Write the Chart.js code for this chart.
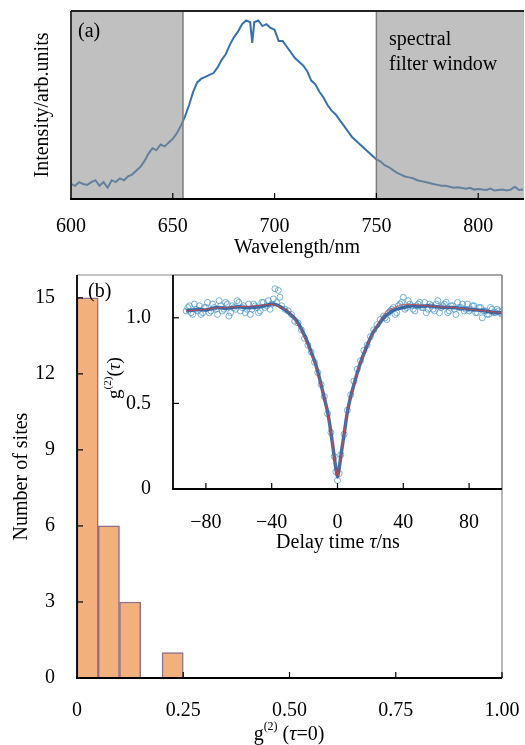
<!doctype html>
<html lang="en">
<head>
<meta charset="UTF-8">
<title>Spectrum and g2 histogram</title>
<script src="https://cdn.jsdelivr.net/npm/chart.js"></script>
<style>
  body { margin: 0; background: #fff; }
  #wrap { position: relative; width: 525px; height: 745px; }
  canvas { position: absolute; left: 0; }
</style>
</head>
<body>
<div id="wrap">
  <canvas id="spectrumChart" width="525" height="270" style="top:0"></canvas>
  <canvas id="histChart" width="525" height="475" style="top:270px"></canvas>
  <canvas id="insetChart" width="525" height="475" style="top:270px"></canvas>
</div>
<script>
  // (a) PL spectrum
  const wavelength = [600,602,604,606,608,610,612,614,616,618,620,622,624,626,628,630,632,634,636,638,
    640,642,644,646,648,650,652,654,656,658,660,662,664,666,668,670,672,674,676,678,680,682,684,686,688,689,
    690,692,694,696,698,700,702,704,706,708,710,712,714,716,718,720,722,724,726,728,730,732,734,736,738,
    740,742,744,746,748,750,752,754,756,758,760,762,764,766,768,770,772,774,776,778,780,782,784,786,788,
    790,792,794,796,798,800,802,804,806,808,810,812,814,816,818,820,822];
  const intensity = [.08,.07,.09,.08,.075,.09,.10,.07,.09,.06,.10,.09,.11,.10,.12,.13,.15,.17,.20,.24,
    .27,.26,.29,.28,.30,.32,.35,.39,.44,.50,.57,.62,.64,.65,.66,.67,.70,.74,.77,.82,.86,.89,.93,.95,.94,.83,
    .94,.95,.92,.93,.91,.90,.84,.84,.81,.78,.75,.73,.71,.68,.63,.61,.57,.54,.50,.47,.45,.42,.39,.36,.33,
    .31,.29,.27,.25,.23,.21,.20,.18,.17,.155,.14,.13,.12,.115,.11,.10,.095,.09,.085,.08,.075,.07,.07,.065,.06,
    .063,.058,.055,.06,.05,.053,.05,.048,.055,.045,.048,.05,.045,.05,.065,.048,.05];
  const wavelengthTicks = [600, 650, 700, 750, 800];
  const filterEdges = [655, 750];

  // (b) histogram of g2(0)
  const binCenters = [0.025, 0.075, 0.125, 0.175, 0.225];
  const siteCounts = [15, 6, 3, 0, 1];
  const g2Ticks = [0, 0.25, 0.5, 0.75, 1.0];
  const countTicks = [0, 3, 6, 9, 12, 15];

  // (b) inset: g2(tau) measured points
  const tau = [-92,-90,-88,-86,-84,-82,-80,-78,-76,-74,-72,-70,-68,-66,-64,-62,-60,-58,-56,-54,
    -52,-50,-48,-46,-44,-42,-40,-38,-36,-34,-32,-30,-28,-26,-24,-22,-20,-18,-16,-14,-12,-10,-8,-6,-4,-2,-1,
    0,1,2,4,6,8,10,12,14,16,18,20,22,24,26,28,30,32,34,36,38,40,42,44,46,48,50,52,54,56,58,60,62,64,66,68,
    70,72,74,76,78,80,82,84,86,88,90,92,94,96,98,100];
  const g2 = [1.04,1.07,1.02,1.05,1.07,1.03,1.06,1.03,1.08,1.05,1.10,1.04,1.09,1.01,1.07,1.05,1.09,1.06,1.03,1.08,
    1.05,1.07,1.03,1.09,1.06,1.10,1.08,1.17,1.16,1.07,1.05,1.04,1.02,0.98,0.97,0.93,0.88,0.84,0.80,0.74,
    0.68,0.61,0.54,0.44,0.33,0.19,0.10,0.05,0.09,
    0.20,0.32,0.46,0.55,0.63,0.70,0.75,0.81,0.84,0.89,0.93,0.96,0.99,1.01,0.99,1.04,1.06,1.03,1.08,1.12,
    1.06,1.08,1.05,1.07,1.09,1.06,1.03,1.08,1.05,1.08,1.03,1.07,1.09,1.04,1.07,1.02,1.06,1.08,1.05,1.04,
    1.07,1.03,1.06,1.00,1.04,1.02,1.05,1.03,1.04,1.02];
  // extra points between the above on the two plateaus
  const tauExtra = [-91,-89,-87,-85,-83,-81,-79,-77,-75,-73,-71,-69,-67,-65,-63,-61,-59,-57,-55,-53,-51,-49,-47,
    -45,-43,-41,-39,-37,-35,
    29,31,33,35,37,39,41,43,45,47,49,51,53,55,57,59,61,63,65,67,69,71,73,75,77,79,81,83,85,87,89,91,93,95,97,99];
  const g2Extra = [1.06,1.03,1.08,1.04,1.02,1.06,1.09,1.04,1.06,1.02,1.07,1.05,1.08,1.03,1.06,1.10,1.04,1.07,1.05,
    1.02,1.08,1.06,1.04,1.09,1.07,1.05,1.11,1.09,1.12,
    1.00,1.03,1.05,1.02,1.07,1.09,1.05,1.10,1.07,1.04,1.08,1.06,1.09,1.05,1.07,1.04,1.10,1.06,1.08,1.03,
    1.07,1.05,1.09,1.06,1.04,1.08,1.05,1.07,1.03,1.06,1.04,1.02,1.06,1.03,1.05,1.03];
  // smoothed trace through the points
  const trendTau = [-92,-88,-84,-80,-76,-72,-68,-64,-60,-56,-52,-48,-44,-40,-37,-34,-31,-28,-25,-22,-19,-16,-13,
    -10,-8,-6,-4,-2,-1,0,1,2,4,6,8,10,13,16,19,22,25,28,31,34,38,42,46,50,55,60,65,70,75,80,85,90,95,100];
  const trendG2 = [1.04,1.045,1.05,1.045,1.055,1.06,1.055,1.06,1.065,1.06,1.06,1.065,1.07,1.08,1.075,1.06,1.04,
    1.015,0.985,0.935,0.875,0.80,0.72,0.61,0.53,0.45,0.33,0.19,0.12,0.07,0.12,0.19,0.32,0.45,0.54,0.61,0.71,
    0.79,0.86,0.92,0.96,1.0,1.025,1.045,1.055,1.065,1.07,1.065,1.07,1.065,1.06,1.06,1.055,1.05,1.045,1.04,1.03,1.03];
  // fitted curve
  const fitTau = [-92,-80,-70,-60,-50,-45,-40,-37,-34,-30,-26,-22,-19,-16,-13,-10,-8,-6,-4,-2,-1,0,
    1,2,4,6,8,10,13,16,19,22,26,30,34,37,40,45,50,60,70,80,90,100];
  const fitG2 = [1.04,1.05,1.06,1.065,1.07,1.075,1.078,1.07,1.058,1.04,0.99,0.92,0.86,0.79,0.71,0.60,0.53,0.45,
    0.32,0.19,0.12,0.07,0.12,0.19,0.32,0.45,0.53,0.60,0.71,0.79,0.86,0.92,0.99,1.04,1.058,1.07,1.078,1.078,1.075,
    1.065,1.06,1.05,1.04,1.03];
  const tauTicks = [-80, -40, 0, 40, 80];
  const insetTicks = [0, 0.5, 1.0];

  const serif = "'Liberation Serif', 'Times New Roman', serif";
  const font20 = {family: serif, size: 20};
  Chart.defaults.font.family = serif;
  Chart.defaults.color = '#000';
  Chart.defaults.animation = false;

  function setTicks(list) {
    return (scale) => { scale.ticks = list.map((v) => ({value: v})); };
  }

  // fixed axis size, and no extra label overflow padding
  function fixSize(size) {
    return (s) => {
      if (s.isHorizontal()) s.height = size; else s.width = size;
      s.paddingTop = s.paddingBottom = s.paddingLeft = s.paddingRight = 0;
    };
  }

  function xy(xs, ys) {
    return xs.map((x, i) => ({x: x, y: ys[i]}));
  }

  function drawRuns(ctx, runs, x, y) {
    let w = 0;
    runs.forEach((r) => { ctx.font = r.font; w += ctx.measureText(r.t).width; });
    let cx = x - w / 2;
    ctx.textBaseline = 'middle';
    ctx.textAlign = 'left';
    ctx.fillStyle = '#000';
    runs.forEach((r) => {
      ctx.font = r.font;
      ctx.fillText(r.t, cx, y + (r.dy || 0));
      cx += ctx.measureText(r.t).width;
    });
  }

  function line(ctx, x1, y1, x2, y2, color, width) {
    ctx.strokeStyle = color;
    ctx.lineWidth = width;
    ctx.beginPath();
    ctx.moveTo(x1, y1);
    ctx.lineTo(x2, y2);
    ctx.stroke();
  }

  // frame + inward ticks
  function framePlugin(xList, yList, topColor) {
    return {
      id: 'frame',
      afterDraw(chart) {
        const {ctx, chartArea: a, scales} = chart;
        ctx.save();
        line(ctx, a.left, a.top, a.right, a.top, topColor, 1.2);
        line(ctx, a.right, a.top, a.right, a.bottom, topColor, 1.2);
        line(ctx, a.left, a.top, a.left, a.bottom, '#000', 1.8);
        line(ctx, a.left - 1, a.bottom, a.right, a.bottom, '#000', 1.8);
        xList.forEach((v) => {
          const px = scales.x.getPixelForValue(v);
          line(ctx, px, a.bottom, px, a.bottom - 6, '#000', 1.2);
        });
        yList.forEach((v) => {
          const py = scales.y.getPixelForValue(v);
          line(ctx, a.left, py, a.left + 6, py, '#000', 1.2);
        });
        ctx.restore();
      }
    };
  }

  // (a)
  new Chart(document.getElementById('spectrumChart'), {
    type: 'line',
    data: {
      datasets: [{
        data: xy(wavelength, intensity),
        borderColor: '#3672b0',
        borderWidth: 2,
        pointRadius: 0,
        tension: 0
      }]
    },
    options: {
      responsive: false,
      layout: {padding: {top: 11, right: 2, left: 0, bottom: 0}},
      plugins: {legend: {display: false}, tooltip: {enabled: false}},
      scales: {
        x: {
          type: 'linear', min: 600, max: 822,
          afterBuildTicks: setTicks(wavelengthTicks),
          afterFit: fixSize(71),
          grid: {display: false}, border: {display: false},
          ticks: {font: font20, padding: 8, maxRotation: 0, autoSkip: false},
          title: {display: true, text: 'Wavelength/nm', font: font20, padding: {top: 0, bottom: 10}}
        },
        y: {
          min: 0, max: 1,
          afterFit: fixSize(71),
          grid: {display: false}, border: {display: false},
          ticks: {display: false},
          title: {display: true, text: 'Intensity/arb.units', font: font20, padding: {top: 31, bottom: 0}}
        }
      }
    },
    plugins: [{
      id: 'filterWindow',
      afterDatasetsDraw(chart) {
        const {ctx, chartArea: a, scales: {x}} = chart;
        const x1 = x.getPixelForValue(filterEdges[0]);
        const x2 = x.getPixelForValue(filterEdges[1]);
        ctx.save();
        ctx.fillStyle = 'rgba(140,140,140,0.55)';
        ctx.fillRect(a.left, a.top, x1 - a.left, a.bottom - a.top);
        ctx.fillRect(x2, a.top, a.right + 1 - x2, a.bottom - a.top);
        line(ctx, x1, a.top, x1, a.bottom, '#7d7d7d', 1.5);
        line(ctx, x2, a.top, x2, a.bottom, '#7d7d7d', 1.5);
        ctx.restore();
      },
      afterDraw(chart) {
        const {ctx, chartArea: a, scales: {x}} = chart;
        ctx.save();
        line(ctx, a.left, a.top, a.right + 1, a.top, '#222', 1.8);
        line(ctx, a.left, a.top, a.left, a.bottom, '#222', 1.8);
        line(ctx, a.left - 1, a.bottom, a.right + 1, a.bottom, '#000', 1.8);
        wavelengthTicks.slice(1).forEach((v) => {
          const px = x.getPixelForValue(v);
          line(ctx, px, a.bottom, px, a.bottom - 6, '#000', 1.2);
        });
        ctx.font = '20px ' + serif;
        ctx.fillStyle = '#000';
        ctx.textBaseline = 'middle';
        ctx.textAlign = 'left';
        ctx.fillText('(a)', 78, 32);
        ctx.fillText('spectral', 389, 40);
        ctx.fillText('filter window', 389, 65);
        ctx.restore();
      }
    }]
  });

  // (b) histogram
  new Chart(document.getElementById('histChart'), {
    type: 'bar',
    data: {
      datasets: [{
        data: xy(binCenters, siteCounts),
        backgroundColor: '#f1b07c',
        borderColor: '#8f6f8c',
        borderWidth: 1.5,
        borderSkipped: 'bottom',
        barPercentage: 1,
        categoryPercentage: 1
      }]
    },
    options: {
      responsive: false,
      layout: {padding: {top: 5, right: 23, left: 0, bottom: 0}},
      plugins: {legend: {display: false}, tooltip: {enabled: false}},
      scales: {
        x: {
          type: 'linear', min: 0, max: 1, offset: false,
          afterBuildTicks: setTicks(g2Ticks),
          afterFit: fixSize(67),
          grid: {display: false}, border: {display: false},
          ticks: {font: font20, padding: 13, maxRotation: 0, autoSkip: false,
            callback: (v) => (v === 0 ? '0' : v.toFixed(2))}
        },
        y: {
          min: 0, max: 15.9,
          afterBuildTicks: setTicks(countTicks),
          afterFit: fixSize(77),
          grid: {display: false}, border: {display: false},
          ticks: {font: font20, padding: 14},
          title: {display: true, text: 'Number of sites', font: font20, padding: {top: 10, bottom: 0}}
        }
      }
    },
    plugins: [framePlugin(g2Ticks.slice(1), countTicks.slice(1), '#8a8a8a'), {
      id: 'histText',
      afterDraw(chart) {
        const {ctx} = chart;
        ctx.save();
        ctx.font = '20px ' + serif;
        ctx.fillStyle = '#000';
        ctx.textBaseline = 'middle';
        ctx.textAlign = 'left';
        ctx.fillText('(b)', 88, 22);
        drawRuns(ctx, [
          {t: 'g', font: '20px ' + serif},
          {t: '(2)', font: '12px ' + serif, dy: -8},
          {t: ' (', font: '20px ' + serif},
          {t: 'τ', font: 'italic 20px ' + serif},
          {t: '=0)', font: '20px ' + serif}
        ], 289, 465);
        ctx.restore();
      }
    }]
  });

  // (b) inset
  new Chart(document.getElementById('insetChart'), {
    type: 'scatter',
    data: {
      datasets: [
        {
          data: xy(fitTau, fitG2),
          showLine: true, borderColor: 'rgba(222,62,58,0.8)', borderWidth: 1, pointRadius: 0, tension: 0.3
        },
        {
          data: xy(trendTau, trendG2),
          showLine: true, borderColor: 'rgba(48,95,155,0.9)', borderWidth: 3.5, pointRadius: 0, tension: 0.3
        },
        {
          data: xy(tau, g2).concat(xy(tauExtra, g2Extra)),
          showLine: false, pointRadius: 3, pointBorderWidth: 1,
          pointBorderColor: 'rgba(75,150,200,0.75)', pointBackgroundColor: 'rgba(255,255,255,0)'
        }
      ]
    },
    options: {
      responsive: false,
      layout: {padding: {top: 5, right: 23, left: 0, bottom: 186}},
      plugins: {legend: {display: false}, tooltip: {enabled: false}},
      scales: {
        x: {
          type: 'linear', min: -100, max: 100,
          afterBuildTicks: setTicks(tauTicks),
          afterFit: fixSize(70),
          grid: {display: false}, border: {display: false},
          ticks: {font: font20, padding: 14, maxRotation: 0, autoSkip: false,
            callback: (v) => String(v).replace('-', '\u2212')}
        },
        y: {
          min: 0, max: 1.25,
          afterBuildTicks: setTicks(insetTicks),
          afterFit: fixSize(173),
          grid: {display: false}, border: {display: false},
          ticks: {font: font20, padding: 14, callback: (v) => (v === 0 ? '0' : v.toFixed(1))}
        }
      }
    },
    plugins: [framePlugin(tauTicks, insetTicks.slice(1), '#8a8a8a'), {
      id: 'insetText',
      afterDraw(chart) {
        const {ctx} = chart;
        ctx.save();
        drawRuns(ctx, [
          {t: 'Delay time ', font: '20px ' + serif},
          {t: 'τ', font: 'italic 20px ' + serif},
          {t: '/ns', font: '20px ' + serif}
        ], 338, 273);
        ctx.translate(115, 108);
        ctx.rotate(-Math.PI / 2);
        drawRuns(ctx, [
          {t: 'g', font: '19px ' + serif},
          {t: '(2)', font: '11px ' + serif, dy: -7},
          {t: '(', font: '19px ' + serif},
          {t: 'τ', font: 'italic 19px ' + serif},
          {t: ')', font: '19px ' + serif}
        ], 0, 0);
        ctx.restore();
      }
    }]
  });
</script>
</body>
</html>
